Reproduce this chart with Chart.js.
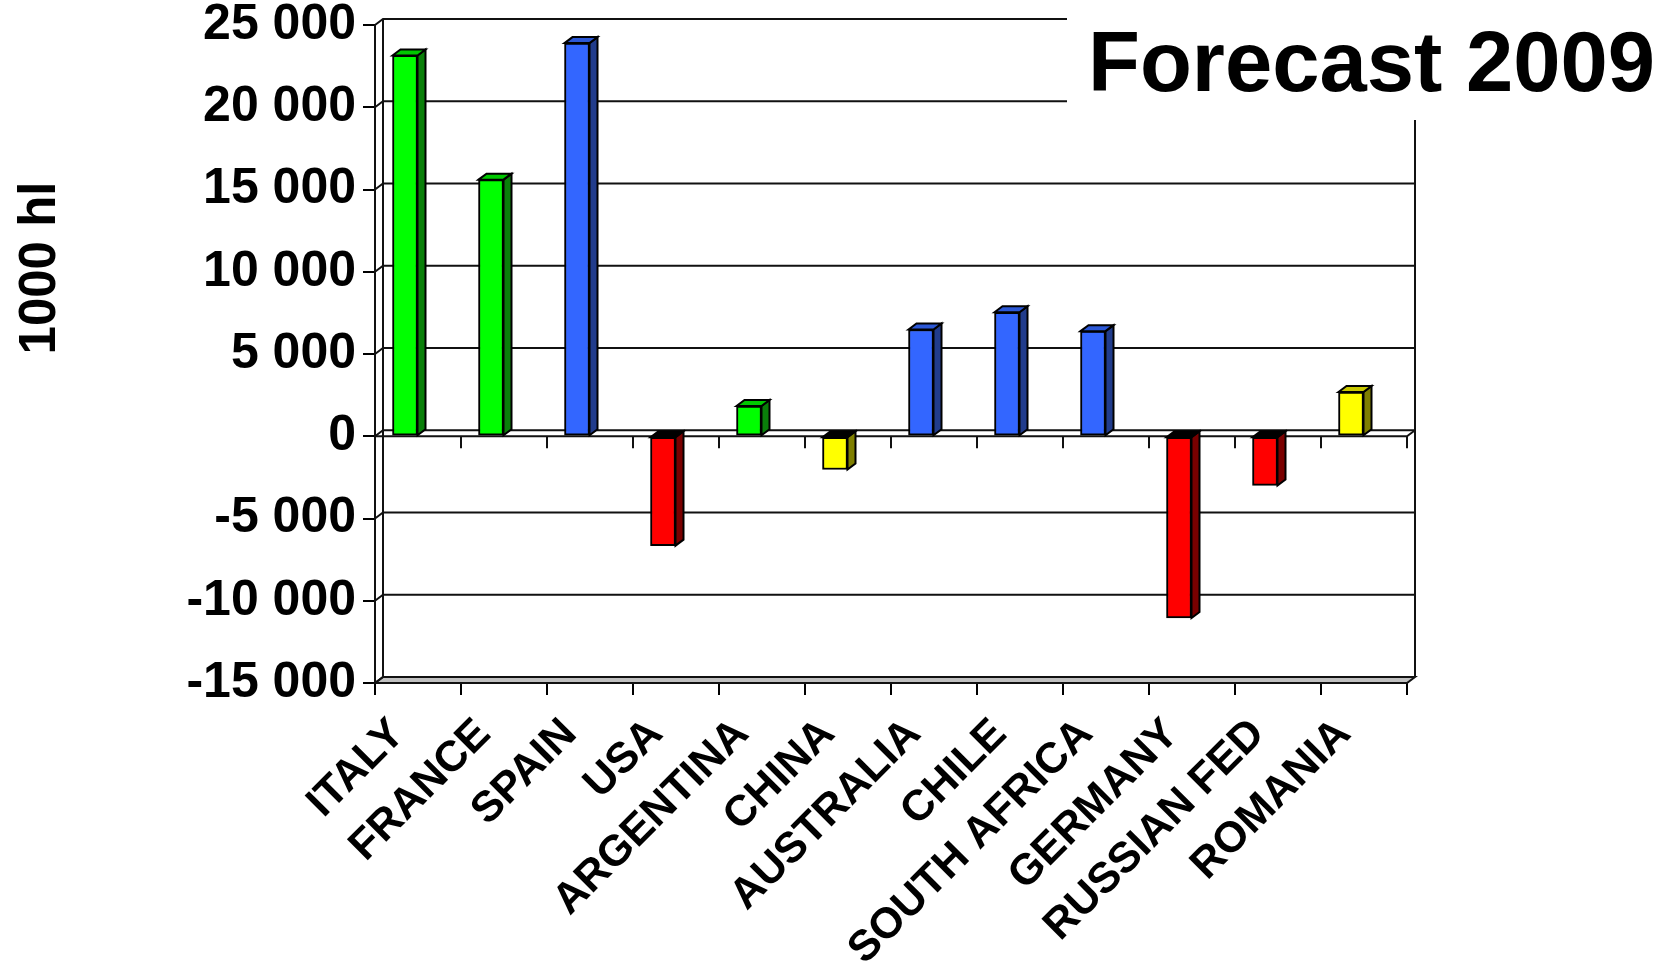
<!DOCTYPE html>
<html>
<head>
<meta charset="utf-8">
<script src="https://cdn.jsdelivr.net/npm/chart.js@4.4.1/dist/chart.umd.min.js"></script>
<style>
  html, body { margin: 0; padding: 0; background: #fff; }
  #wrap { width: 1671px; height: 963px; position: relative; }
</style>
</head>
<body>
<div id="wrap"><canvas id="c" width="1671" height="963"></canvas></div>
<script>
// ---- data ----
const categories = ['ITALY', 'FRANCE', 'SPAIN', 'USA', 'ARGENTINA', 'CHINA', 'AUSTRALIA', 'CHILE', 'SOUTH AFRICA', 'GERMANY', 'RUSSIAN FED', 'ROMANIA'];
const values = [23150, 15600, 23900, -6650, 1840, -2020, 6490, 7540, 6390, -11050, -2990, 2690];
const yTicks = [-15000, -10000, -5000, 0, 5000, 10000, 15000, 20000, 25000];
const chartTitle = 'Forecast 2009';
const yAxisTitle = '1000 hl';

// ---- style ----
const palette = {
  green:  { front: '#00FF00', side: '#0A7F0A', top: '#00C800' },
  blue:   { front: '#3366FF', side: '#213C8C', top: '#2C58D6' },
  red:    { front: '#FF0000', side: '#7A0000', top: '#C80000' },
  yellow: { front: '#FFFF00', side: '#7F7F00', top: '#C8C800' }
};
const barColorKeys = ['green', 'green', 'blue', 'red', 'green', 'yellow', 'blue', 'blue', 'blue', 'red', 'red', 'yellow'];
const FONT = '"Liberation Sans", Arial, sans-serif';
const DX = 8, DY = 6;         // 3D depth offset
const BAR_SHIFT = -13;        // bars sit left of the category centre
const LINE = '#111';

function fmt(v) {
  const s = Math.abs(v).toString().replace(/\B(?=(\d{3})+(?!\d))/g, ' ');
  return (v < 0 ? '-' : '') + s;
}

const threeD = {
  id: 'threeD',
  beforeDatasetsDraw(chart) {
    const ctx = chart.ctx, ys = chart.scales.y, xs = chart.scales.x;
    const a = chart.chartArea;
    const L = a.left, R = a.right;
    ctx.save();
    ctx.lineWidth = 2;
    ctx.strokeStyle = LINE;
    // floor
    const yFloor = ys.getPixelForValue(yTicks[0]);
    ctx.beginPath();
    ctx.moveTo(L, yFloor); ctx.lineTo(R, yFloor); ctx.lineTo(R + DX, yFloor - DY); ctx.lineTo(L + DX, yFloor - DY); ctx.closePath();
    ctx.fillStyle = '#C0C0C0'; ctx.fill(); ctx.stroke();
    // back wall gridlines + left wall diagonals
    yTicks.forEach(v => {
      const y = ys.getPixelForValue(v);
      ctx.beginPath();
      ctx.moveTo(L, y); ctx.lineTo(L + DX, y - DY);
      if (v !== yTicks[0]) { ctx.lineTo(R + DX, y - DY); }
      ctx.stroke();
    });
    // back wall vertical edges
    const yTop = ys.getPixelForValue(yTicks[yTicks.length - 1]);
    ctx.beginPath();
    ctx.moveTo(L + DX, yTop - DY); ctx.lineTo(L + DX, yFloor - DY);
    ctx.moveTo(R + DX, yTop - DY); ctx.lineTo(R + DX, yFloor - DY);
    // front axis
    ctx.moveTo(L, yTop); ctx.lineTo(L, yFloor);
    ctx.stroke();
    // zero plane
    const y0 = ys.getPixelForValue(0);
    ctx.beginPath();
    ctx.moveTo(L, y0); ctx.lineTo(R, y0); ctx.lineTo(R + DX, y0 - DY);
    ctx.stroke();
    // category ticks at zero line
    const step = xs.getPixelForValue(1) - xs.getPixelForValue(0);
    ctx.beginPath();
    for (let i = 0; i <= categories.length; i++) {
      const x = xs.getPixelForValue(0) - step / 2 + i * step;
      ctx.moveTo(x, y0); ctx.lineTo(x, y0 + 12);
    }
    ctx.stroke();
    ctx.restore();
    ctx.save();
    ctx.translate(BAR_SHIFT, 0);
  },
  afterDatasetsDraw(chart) {
    const ctx = chart.ctx;
    const meta = chart.getDatasetMeta(0);
    ctx.lineWidth = 2;
    ctx.strokeStyle = '#000';
    ctx.lineJoin = 'miter';
    meta.data.forEach((bar, i) => {
      const p = bar.getProps(['x', 'y', 'base', 'width'], true);
      const c = palette[barColorKeys[i]];
      const left = p.x - p.width / 2, right = p.x + p.width / 2;
      const top = Math.min(p.y, p.base), bottom = Math.max(p.y, p.base);
      // side
      ctx.beginPath();
      ctx.moveTo(right, top); ctx.lineTo(right + DX, top - DY); ctx.lineTo(right + DX, bottom - DY); ctx.lineTo(right, bottom); ctx.closePath();
      ctx.fillStyle = c.side; ctx.fill(); ctx.stroke();
      // top
      ctx.beginPath();
      ctx.moveTo(left, top); ctx.lineTo(left + DX, top - DY); ctx.lineTo(right + DX, top - DY); ctx.lineTo(right, top); ctx.closePath();
      ctx.fillStyle = values[i] < 0 ? '#000' : c.top; ctx.fill(); ctx.stroke();
    });
    ctx.restore();
  },
  afterDraw(chart) {
    const ctx = chart.ctx;
    ctx.save();
    // title box
    ctx.fillStyle = '#fff';
    ctx.fillRect(1067, 0, chart.width - 1067, 120);
    ctx.fillStyle = '#000';
    ctx.font = 'bold 85px ' + FONT;
    ctx.textAlign = 'left';
    ctx.textBaseline = 'alphabetic';
    ctx.fillText(chartTitle, 1088, 91);
    // y axis title
    ctx.translate(55, 268);
    ctx.rotate(-Math.PI / 2);
    ctx.font = 'bold 51px ' + FONT;
    ctx.textAlign = 'center';
    ctx.fillText(yAxisTitle, 0, 0);
    ctx.restore();
  }
};

new Chart(document.getElementById('c'), {
  type: 'bar',
  data: {
    labels: categories,
    datasets: [{
      data: values,
      backgroundColor: barColorKeys.map(k => palette[k].front),
      borderColor: '#000',
      borderWidth: 2,
      borderSkipped: false,
      barThickness: 25
    }]
  },
  options: {
    responsive: false,
    animation: false,
    devicePixelRatio: 1,
    layout: { padding: { top: 25, right: 264, left: 0, bottom: 0 } },
    plugins: { legend: { display: false }, tooltip: { enabled: false }, title: { display: false } },
    scales: {
      x: {
        grid: { display: true, drawOnChartArea: false, drawTicks: true, tickLength: 12, color: '#000', lineWidth: 2, offset: true },
        border: { display: false },
        ticks: {
          autoSkip: false, maxRotation: 45, minRotation: 45, color: '#000', padding: 14, labelOffset: -20,
          font: { family: FONT, size: 43, weight: 'bold' }
        },
        afterFit(s) { s.height = 280; s.paddingLeft = 0; s.paddingRight = 0; }
      },
      y: {
        min: yTicks[0], max: yTicks[yTicks.length - 1],
        afterBuildTicks(s) { s.ticks = yTicks.map(v => ({ value: v })); },
        grid: { display: true, drawOnChartArea: false, drawTicks: true, tickLength: 12, color: '#000', lineWidth: 2 },
        border: { display: false },
        ticks: {
          color: '#000', padding: 7,
          font: { family: FONT, size: 50, weight: 'bold' },
          callback: v => fmt(v)
        },
        afterFit(s) { s.width = 375; s.paddingTop = 0; s.paddingBottom = 0; }
      }
    }
  },
  plugins: [threeD]
});
</script>
</body>
</html>
